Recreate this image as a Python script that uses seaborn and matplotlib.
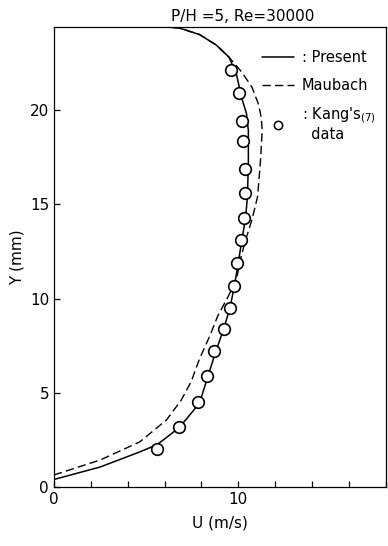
import matplotlib
matplotlib.use("Agg")
import matplotlib.pyplot as plt
import seaborn as sns
import pandas as pd
from matplotlib.lines import Line2D

# ---- data ----
present_u = [0.0, 2.5, 4.65, 5.6, 6.8, 7.9, 8.3, 8.75, 9.2, 9.55, 9.8, 10.05,
             10.2, 10.4, 10.5, 10.55, 10.55, 10.45, 10.2, 9.9, 9.5, 8.8, 7.9, 6.8, 6.1]
present_y = [0.4, 1.06, 1.86, 2.25, 3.15, 4.45, 5.7, 7.1, 8.35, 9.5, 10.7, 12.2,
             13.1, 14.3, 15.4, 17.2, 18.9, 19.8, 20.6, 21.9, 22.8, 23.45, 24.0, 24.35, 24.4]

maubach_u = [0.0, 2.5, 4.65, 6.1, 6.9, 7.45, 7.9, 8.45, 8.9, 9.45, 9.9, 10.15,
             10.4, 10.75, 11.05, 11.2, 11.3, 11.25, 11.1, 10.75, 10.2, 9.5, 8.8, 7.9, 6.8, 6.1]
maubach_y = [0.64, 1.43, 2.39, 3.55, 4.6, 5.6, 6.8, 8.0, 9.1, 10.1, 11.0, 12.2,
             13.1, 14.2, 15.4, 17.2, 18.9, 19.6, 20.3, 21.2, 22.0, 22.8, 23.45, 24.0, 24.35, 24.4]

kang_u = [5.57, 6.76, 7.84, 8.32, 8.70, 9.24, 9.57, 9.78, 9.92, 10.16, 10.32,
          10.38, 10.38, 10.27, 10.22, 10.05, 9.62]
kang_y = [2.02, 3.18, 4.51, 5.89, 7.21, 8.38, 9.50, 10.66, 11.88, 13.10, 14.27,
          15.60, 16.87, 18.36, 19.42, 20.90, 22.12]

x_ticks = [0, 2, 4, 6, 8, 10, 12, 14, 16, 18]
x_tick_labels = ["0", "", "", "", "", "10", "", "", "", ""]
y_ticks = [0, 5, 10, 15, 20]
y_tick_labels = ["0", "5", "10", "15", "20"]

title = "P/H =5, Re=30000"
x_label = "U (m/s)"
y_label = "Y (mm)"
legend_labels = [": Present", "Maubach", ": Kang's$_{(7)}$\n  data"]

# ---- plotting ----
sns.set_theme(style="white")
plt.rcParams['font.family'] = ['DejaVu Sans']
plt.rcParams['text.color'] = 'black'
plt.rcParams['axes.labelcolor'] = 'black'

fig = plt.figure(figsize=(3.88, 5.46), dpi=100)
ax = fig.add_axes([0.139, 0.108, 0.855, 0.8425])

df_p = pd.DataFrame({"u": present_u, "y": present_y})
df_m = pd.DataFrame({"u": maubach_u, "y": maubach_y})
df_k = pd.DataFrame({"u": kang_u, "y": kang_y})

sns.lineplot(data=df_p, x="u", y="y", sort=False, estimator=None, ax=ax,
             color="black", linewidth=1.1)
sns.lineplot(data=df_m, x="u", y="y", sort=False, estimator=None, ax=ax,
             color="black", linewidth=1.0, linestyle=(0, (6, 3)))
sns.scatterplot(data=df_k, x="u", y="y", ax=ax, s=70, facecolor="white",
                edgecolor="black", linewidth=1.2, zorder=5)

ax.set_xlim(0, 18)
ax.set_ylim(0, 24.4)
ax.set_xticks(x_ticks)
ax.set_xticklabels(x_tick_labels)
ax.set_yticks(y_ticks)
ax.set_yticklabels(y_tick_labels)
ax.tick_params(direction="in", length=4, width=0.9, colors="black",
               labelsize=11, bottom=True, left=True)
for s in ax.spines.values():
    s.set_color("black")
    s.set_linewidth(0.9)

ax.set_xlabel(x_label, fontsize=11, labelpad=6, color="black")
ax.set_ylabel(y_label, fontsize=11, labelpad=4, color="black")
ax.set_title(title, fontsize=11, pad=4, color="black", x=0.57)

handles = [Line2D([], [], color="black", linewidth=1.1),
           Line2D([], [], color="black", linewidth=1.0, linestyle=(0, (6, 3))),
           Line2D([], [], color="black", linestyle="none", marker="o",
                  markerfacecolor="white", markersize=6, markeredgewidth=1.1)]
ax.legend(handles, legend_labels, loc="upper left", bbox_to_anchor=(0.605, 0.965),
          frameon=False, handlelength=2.2, handletextpad=0.55, labelspacing=0.85,
          borderpad=0, fontsize=10.5)

fig.savefig("out.png", dpi=100)
